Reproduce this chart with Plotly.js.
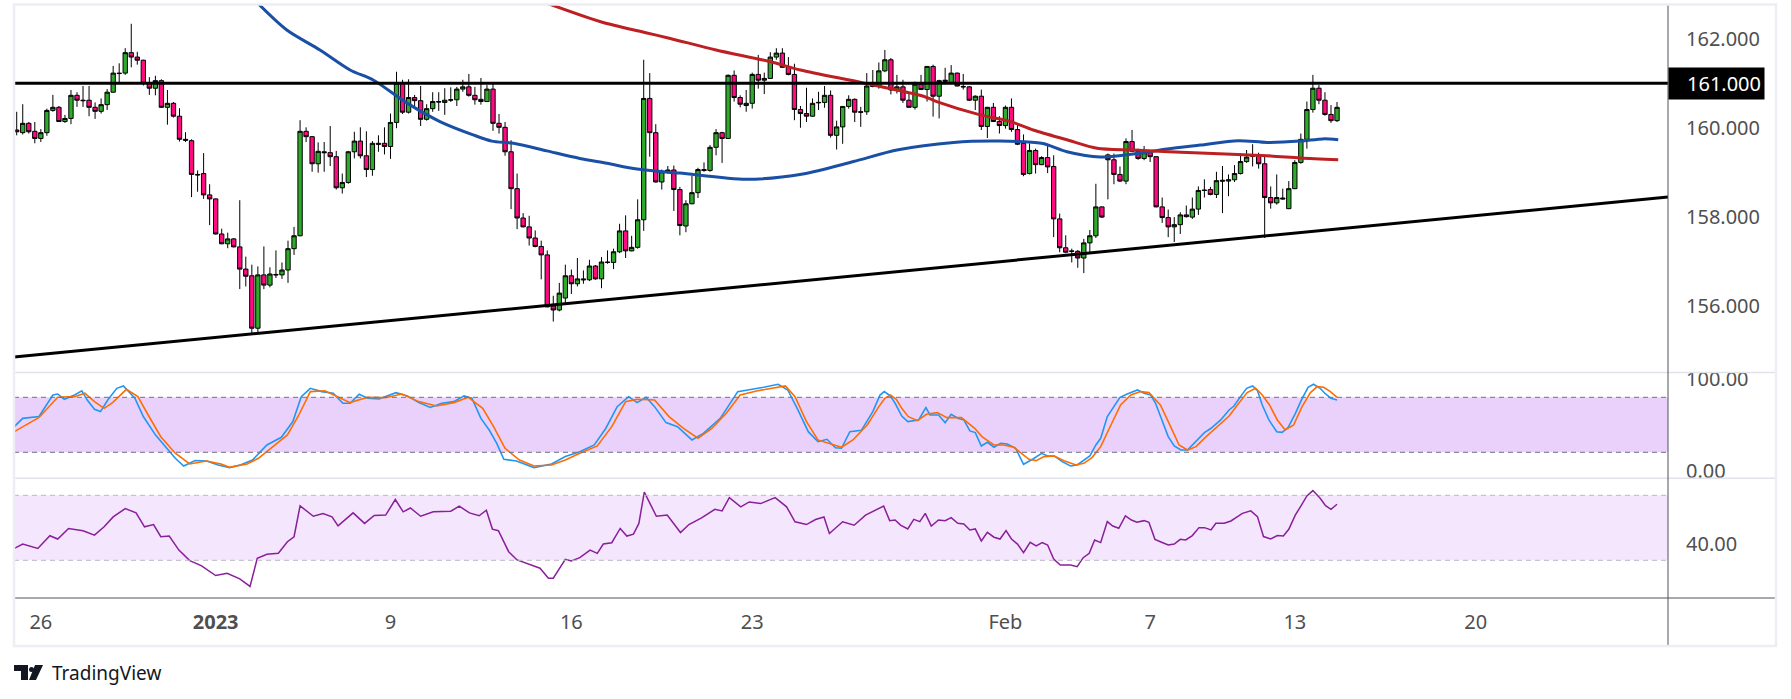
<!DOCTYPE html>
<html><head><meta charset="utf-8">
<script src="https://cdn.plot.ly/plotly-3.0.1.min.js"></script>
<style>html,body{margin:0;padding:0;background:#fff;}#chart{width:1791px;height:699px;}</style>
</head><body><div id="chart"></div>
<script>
// ---------- data (4H candles) ----------
const opens = [
159.95,159.89,160.10,159.92,159.76,159.89,160.39,160.46,160.14,160.21,
160.73,160.62,160.62,160.46,160.37,160.52,160.80,161.23,161.23,161.69,
161.59,161.52,161.00,160.89,161.06,160.46,160.55,160.26,159.74,159.71,
158.95,158.97,158.49,158.40,157.61,157.39,157.50,157.32,156.82,156.67,
155.49,156.69,156.46,156.70,156.69,156.80,157.28,157.57,159.92,159.80,
159.19,159.46,159.44,159.35,158.65,158.77,159.46,159.70,159.37,159.06,
159.65,159.65,159.58,160.12,161.00,160.35,160.68,160.61,160.19,160.43,
160.59,160.57,160.62,160.63,160.87,160.92,160.73,160.64,160.59,160.87,
160.10,160.01,159.46,158.63,157.97,157.77,157.52,157.33,157.14,155.99,
155.90,156.17,156.67,156.49,156.60,156.58,156.89,156.60,156.98,156.97,
157.21,157.68,157.23,157.31,157.93,160.66,159.89,158.78,159.01,159.05,
158.61,157.79,158.29,158.54,159.06,159.04,159.56,159.89,159.76,161.18,
160.68,160.50,160.55,161.20,161.07,161.11,161.59,161.68,161.36,161.20,
160.41,160.32,160.26,160.56,160.57,160.73,159.83,160.02,160.48,160.64,
160.36,160.36,160.95,160.93,161.28,161.53,160.85,160.92,160.62,160.46,
160.98,160.86,161.38,160.71,161.04,161.02,161.23,160.93,160.92,160.62,
160.71,160.03,160.46,160.14,160.05,160.46,159.96,159.65,158.97,159.49,
159.17,159.33,159.13,157.95,157.30,157.23,157.22,157.07,157.41,157.57,
158.22,159.39,159.28,158.95,158.80,159.69,159.47,159.31,159.44,159.35,
158.22,157.98,157.77,157.82,158.04,157.99,158.17,158.60,158.61,158.50,
158.82,158.80,158.83,158.97,159.24,159.36,159.37,159.19,158.43,158.31,
158.42,158.18,158.63,159.22,159.74,160.41,160.89,160.62,160.30,160.16];
const highs = [
160.36,160.53,160.13,160.13,159.97,160.43,160.74,160.49,160.29,160.85,
160.80,160.94,160.94,160.57,160.66,160.87,161.39,161.45,161.79,162.34,
161.71,161.53,161.14,161.17,161.09,160.85,160.58,160.44,159.90,159.74,
159.04,159.43,158.73,158.41,157.73,157.64,157.52,158.37,157.10,156.92,
156.88,157.33,156.86,157.24,156.97,157.46,157.77,160.17,160.01,159.81,
159.67,159.68,160.04,159.48,158.97,159.48,159.91,160.01,159.92,159.70,
159.83,160.01,160.32,161.26,161.08,161.09,160.74,160.94,160.53,160.80,
160.80,160.89,160.91,160.92,161.08,161.21,160.92,161.12,160.96,161.00,
160.31,160.13,159.72,158.97,158.08,158.02,157.69,157.46,157.24,156.22,
156.51,156.92,156.81,157.07,156.79,157.03,156.91,157.09,157.24,157.28,
157.84,158.03,157.57,158.39,161.53,161.23,160.08,159.06,159.14,159.15,
158.67,158.37,158.92,159.10,159.22,159.61,159.97,159.91,161.20,161.29,
160.73,160.85,161.24,161.64,161.24,161.70,161.79,161.79,161.59,161.44,
160.49,160.90,160.66,160.81,160.94,160.84,160.16,160.49,160.73,160.66,
160.47,161.23,161.30,161.47,161.75,161.57,161.19,161.08,160.77,161.04,
161.19,161.39,161.42,161.08,161.35,161.41,161.24,161.21,160.94,160.73,
160.86,160.47,160.56,160.26,160.50,160.66,160.06,159.85,159.65,159.53,
159.36,159.61,159.38,158.07,157.58,157.28,157.25,157.50,157.70,158.74,
158.23,159.42,159.42,159.13,159.76,159.95,159.53,159.59,159.48,159.36,
158.43,158.16,157.99,158.10,158.25,158.43,158.68,158.84,158.67,159.01,
159.14,158.95,159.16,159.42,159.50,159.63,159.44,159.35,158.68,158.95,
158.63,158.80,159.27,159.87,160.59,161.19,160.96,160.80,160.51,160.58];
const lows = [
159.83,159.85,159.87,159.65,159.68,159.82,160.36,160.13,160.11,160.08,
160.47,160.47,160.26,160.20,160.32,160.40,160.79,161.00,161.19,161.36,
161.42,160.95,160.74,160.73,160.45,160.07,160.23,159.69,159.68,158.44,
158.56,158.40,157.81,157.60,157.38,157.29,157.31,156.37,156.43,155.36,
155.37,156.37,156.41,156.62,156.60,156.51,157.14,157.56,159.68,159.01,
158.99,159.01,159.14,158.61,158.52,158.74,159.31,159.31,158.89,158.92,
159.46,159.40,159.30,159.99,160.31,160.32,160.49,160.04,160.16,160.36,
160.38,160.29,160.58,160.49,160.81,160.70,160.52,160.52,160.58,159.93,
159.87,159.37,158.17,157.72,157.76,157.35,157.31,156.59,155.96,155.64,
155.87,156.05,156.26,156.43,156.49,156.55,156.58,156.39,156.94,156.82,
157.18,157.07,157.22,157.28,157.68,159.35,158.77,158.61,158.97,158.13,
157.58,157.65,158.28,158.42,159.01,159.01,159.38,159.21,159.75,160.59,
160.46,160.36,160.43,160.88,160.76,161.10,161.53,161.35,161.18,160.17,
160.00,160.13,160.25,160.40,160.45,159.78,159.51,159.64,160.43,160.13,
160.02,160.29,160.91,160.88,161.25,160.75,160.77,160.56,160.45,160.41,
160.85,160.59,160.25,160.21,161.00,160.98,160.93,160.86,160.60,160.40,
159.95,159.77,160.13,159.87,159.98,159.91,159.61,158.91,158.95,158.97,
159.16,158.98,157.54,157.20,157.18,156.97,156.85,156.73,157.20,157.52,
157.97,158.39,158.73,158.78,158.73,159.46,159.28,159.27,159.23,158.21,
157.86,157.54,157.43,157.61,157.98,157.95,158.04,158.43,158.48,158.42,
158.08,158.46,158.78,158.95,159.21,159.13,159.08,157.52,158.18,158.27,
158.38,158.17,158.62,159.19,159.53,160.34,160.53,160.27,160.11,160.13];
const closes = [
159.91,160.10,159.91,159.76,159.89,160.39,160.46,160.14,160.21,160.73,
160.62,160.61,160.46,160.37,160.52,160.80,161.23,161.22,161.69,161.59,
161.52,161.00,160.89,161.06,160.46,160.55,160.26,159.74,159.72,158.95,
158.94,158.49,158.40,157.61,157.39,157.50,157.32,156.82,156.66,155.49,
156.69,156.46,156.71,156.69,156.80,157.28,157.57,159.92,159.80,159.19,
159.47,159.44,159.35,158.65,158.77,159.46,159.70,159.37,159.06,159.65,
159.63,159.58,160.12,161.00,160.35,160.68,160.61,160.19,160.43,160.59,
160.58,160.62,160.63,160.87,160.92,160.73,160.63,160.59,160.87,160.10,
160.01,159.46,158.63,157.97,157.77,157.52,157.33,157.14,155.97,155.90,
156.28,156.67,156.49,156.60,156.58,156.89,156.60,156.98,156.97,157.21,
157.68,157.23,157.31,157.93,160.66,159.89,158.78,159.01,159.05,158.61,
157.80,158.29,158.54,159.06,159.04,159.56,159.89,159.76,161.18,160.68,
160.53,160.55,161.20,161.07,161.11,161.59,161.68,161.36,161.20,160.41,
160.32,160.26,160.55,160.57,160.73,159.83,160.02,160.48,160.64,160.35,
160.35,160.94,160.93,161.28,161.53,160.85,160.92,160.62,160.46,160.98,
160.86,161.38,160.71,161.06,161.07,161.23,160.94,160.92,160.62,160.71,
160.03,160.46,160.14,160.05,160.46,159.96,159.63,158.95,159.49,159.17,
159.33,159.12,157.95,157.30,157.20,157.22,157.07,157.41,157.57,158.22,
157.99,159.28,158.95,158.80,159.69,159.47,159.31,159.44,159.35,158.22,
157.98,157.77,157.82,158.04,158.00,158.17,158.59,158.59,158.50,158.81,
158.80,158.83,158.97,159.24,159.34,159.37,159.19,158.43,158.31,158.43,
158.40,158.63,159.22,159.74,160.41,160.89,160.62,160.30,160.16,160.46];

// moving averages (bar index, price)
const maBlueIdx = [40,44.8,50.3,55.3,59.2,64.7,70.2,75.7,78.8,82.4,87.9,93.4,97.9,102.9,110,121,130.4,138.8,146,155.4,163,170,174.2,179.7,185.2,190.8,196.3,202.6,207.4,212.9,216.7,219.2];
const maBlueVal = [162.80,162.20,161.75,161.30,161.07,160.56,160.14,159.84,159.70,159.65,159.48,159.31,159.20,159.07,158.98,158.84,158.96,159.24,159.50,159.67,159.70,159.65,159.46,159.34,159.41,159.52,159.61,159.71,159.67,159.70,159.75,159.73];
const maRedIdx = [88,97,104,108.4,116,124.9,130,140.4,150.4,152.6,159.8,164.8,168.6,174.2,179.2,185.2,196.3,207.4,212.9,219.2];
const maRedVal = [162.80,162.38,162.15,162.01,161.75,161.49,161.30,161.01,160.71,160.59,160.29,160.14,159.95,159.73,159.54,159.50,159.43,159.37,159.32,159.28];

// drawn levels
const resistanceLevel = 161.0;
const trendIdx = [-0.45, 273.9];
const trendVal = [154.845, 158.44];

// stochastic %K / %D
const stochKIdx = [-0.4,1,3.7,6,6.8,7.9,9.6,10.8,11.7,12.9,13.9,15.1,16.6,17.7,19.6,21,23,24.8,26.3,27.7,29.6,31.5,33.4,35.3,37.2,39.1,41.5,43.9,45.8,47.2,48.7,50.6,52.5,54.1,55.3,56.8,58.2,60.1,62.9,64.8,66.7,68.6,70.5,72.5,74.2,75.5,77,78.4,79.6,80.8,82.9,85.8,88.7,91,93.4,95.8,97.7,99.6,101.5,102.9,104.4,105.8,107.7,109.6,112,113.9,116.7,119.6,122,123.9,126.3,127.9,129.6,131.3,132.9,134.4,135.8,136.8,138.2,140.1,142,143.2,143.9,144.9,145.7,146.8,147.8,149.6,150.8,151.5,152.9,154,155,156.1,157.1,158.1,159,160,161,162.1,163.2,164.3,165.7,167,168.5,170,171,172.1,173.4,174.8,175.9,177,178,179,179.8,180.9,182,183,184.2,185.9,187,188.1,188.9,190,191,192,193.1,194.2,195.6,197,198.1,199.7,201.1,201.9,203,204,205,205.8,206.6,207.7,209,209.9,210.9,212.1,213.1,214.2,215.1,216.2,217.1,218,219];
const stochKVal = [48,57,59,82.5,83.6,77.8,82.5,87,77,67,64.4,77,89.8,92.4,79,59,39,24.4,13.5,5,11,10.5,6.2,3.3,6.5,11.6,28,36.4,53.5,80.7,89.8,86.2,84.4,73.5,73.5,83.3,79,78.2,85,81.5,74.2,69,73.5,75.3,81.5,79,57,44,30,12.4,10.5,3.3,7.3,15.3,20.7,28,46,69.8,80.7,74.2,80,69.8,52.4,48,33.5,40.7,57,86.2,88.7,91,94.2,88,66,42.5,31.6,34.2,25,24.4,42.5,44,64.4,82.5,86.2,81.5,73.5,59.6,53.5,55.3,68.7,60.7,60.7,52.4,61.5,57.1,55.3,43.3,41.5,26.9,30.9,25.5,29.8,29.1,24.4,6.9,12.4,18.9,16,16,9.8,5.1,6.2,11.6,16,28,35.3,58.9,69.8,80,83.6,88,84.4,82.5,73.5,55.3,37.1,26.9,22.5,22.5,31.6,41.5,46.2,55.3,66.2,70.5,80.7,89.8,92.4,87.3,71.6,55.3,42.5,41.8,47.3,62.5,77.1,90.9,94.2,89.8,83.6,78.9,77.1];
const stochDIdx = [-0.4,3.7,6.8,9.6,11.3,12.9,14.5,15.9,18.2,20.1,21.8,23.9,26.3,28.7,31.5,33.9,35.3,38.2,40.1,42.5,44.9,46.8,48.7,51.1,53.5,55.3,58.2,61.1,63.9,66.7,69.6,72.5,74.9,77.3,79.1,81,83.4,85.8,88.7,91,93.4,96.3,98.7,101,102.9,105.8,108.2,110.6,113,115.3,117.7,120,122.9,125.3,127.5,129.1,131,132.9,134.8,136.8,138.7,141.1,143,144,144.9,145.9,146.8,147.9,149.4,150.9,152.7,154.3,156.7,158.9,160.1,162.1,163.7,165.4,166.5,167.9,169.1,170.4,172.1,173.7,175.7,177,178.4,179.8,181.5,183.1,184.8,186.4,187.8,189.7,191.4,192.8,194.2,195.6,197.3,199.2,201.1,202.7,204.1,205.5,206.6,207.8,209.1,210.4,211.8,213.2,214.6,215.7,216.8,217.9,219];
const stochDVal = [42.5,58,80,80.7,84.4,75.3,68,74.2,88.7,80.7,60.7,37,19,7.3,10.5,7.3,3.6,7.3,13.5,26.2,39,60.7,86.2,87.2,80,74.2,80,79.6,83.6,75.3,70.5,74.2,80,68,48,24.4,11.6,5.1,6.2,11.6,19,27,48,75.3,77.8,77,59,46,35.3,46,62.5,82.5,87.2,89.8,92.4,80.7,53.5,33.5,29.8,25.5,33.5,50,69.8,78.9,82.5,77.8,68,58.9,54.5,61.5,63.3,57.8,57.8,46.2,37.1,28,28,25.5,19.6,12.4,10.9,15.3,16,10.9,6.2,8,14.5,26.2,49.8,71.6,82.5,86.2,85.1,71.6,48,28,22.5,26.2,37.1,48,59.6,73.5,85.1,89.8,82.5,71.6,55.3,44.4,49.8,69.8,85.1,91.6,90.9,86.2,80];

// RSI
const rsiIdx = [-0.4,1,3.5,5.5,6.8,8.6,11,12.9,14.5,16,18,19.8,21.2,22.7,23.9,25.3,26.9,28.7,30.6,33,34.9,37,38.7,39.9,41.5,43.4,44.9,46,47,49.2,50.8,52.3,53.3,55.8,57.7,59.3,61.2,62.8,64.1,65.3,67,69.1,72,73.4,75.1,76.7,77.9,78.9,79.9,81.6,83,86.8,88.2,89,91,92,93.4,95.1,96.3,97.3,98.7,100.1,101.2,102.3,103.2,104.1,106.1,107.9,110.1,111.5,113.6,115.8,117,118.2,120.1,121.5,123.4,125.8,127.7,129.1,131,132.5,133.9,134.8,137,138.9,140.8,143.2,143.8,144.8,145.7,146.6,147.8,148.8,149.8,150.7,151.7,152.9,154,155,156.1,157.1,158.1,159,160,161,162.1,163.1,164.1,165,166,167,168.1,169.1,170.1,171,172,173.1,174.8,175.9,176.9,177.9,178.8,179.8,180.9,181.8,182.8,183.9,184.9,185.8,187,187.8,188.8,189.9,191,192,193,193.9,195,196.1,197,198.1,198.9,200.3,201.4,202.5,203.3,204.7,205.8,206.8,208,209.1,210.1,211,212.1,213.1,214,215,216.2,217.1,218,219];
const rsiVal = [37.3,40,37.3,45.1,43.1,49.6,48.2,45.5,50.6,56.7,61.8,59.2,50.6,52,44.5,44.9,36.3,29.8,26.7,20.6,22,18.6,13.9,31.2,33.7,34.3,41.4,44.5,63.5,57.1,58.8,56.7,51.2,59.2,52.7,57.6,57.8,67.4,59.8,62.2,57.1,59.8,60.2,63.3,59.2,57.4,60.8,49.2,48.2,35.3,30.2,25.1,19,19,30.6,29.6,31.6,36.3,34.3,40,40.8,49.6,44.9,46.1,52.7,72,57.1,57.8,47.1,52,56.1,61.4,60.4,68.6,62.9,65.9,64.9,68.6,62.9,53.7,52,55.1,56.7,46.5,53.7,51.6,57.8,62,63.4,54.4,54.8,51.7,49.3,55.2,53.8,58.9,51.1,54.8,54.4,56.3,52.8,52.4,48.7,49.3,41.9,47.2,44.2,43.1,48.3,43.1,40,34.7,41.1,38.8,40.9,39.4,30.8,27.1,27.1,26.1,31.6,34.3,42.5,40.9,53.8,51.1,49.7,57.3,54.8,53.4,54.4,53.4,42.9,41.1,39.4,40,42.9,42.5,45.2,50.1,50.1,48.7,52.8,52.8,54.2,56.9,58.9,60.4,56.9,44.6,43.1,45.2,45,49.1,57.9,64,69.6,72.9,68.2,63.6,61.4,64.5];

// axis labels
const xTickVals = [4, 33, 62, 92, 122, 164, 188, 212, 242];
const xTickText = ['26', '<b>2023</b>', '9', '16', '23', 'Feb', '7', '13', '20'];
const priceTicks = [156, 158, 160, 162];
const stochTicks = [0, 100];
const rsiTicks = [40];
const stochBand = [20, 80];
const rsiBand = [30, 70];

// ---------- layout geometry (pixels) ----------
const W = 1791, H = 699, PL = 14, PR = 1668, PT = 5, PB = 598;
const px = x => (x - PL) / (PR - PL);
const py = y => (PB - y) / (PB - PT);
const FONT = 'Noto Sans, Roboto, sans-serif';
const TXT = '#4f4f4f';

const barIdx = opens.map((_, i) => i);

const traces = [
  {type: 'candlestick', x: barIdx, open: opens, high: highs, low: lows, close: closes,
   xaxis: 'x', yaxis: 'y', whiskerwidth: 0,
   increasing: {fillcolor: '#2eab2a', line: {color: '#000000', width: 1}},
   decreasing: {fillcolor: '#ff0a80', line: {color: '#000000', width: 1}},
   hoverinfo: 'skip', showlegend: false},
  {type: 'scatter', mode: 'lines', x: maBlueIdx, y: maBlueVal, xaxis: 'x', yaxis: 'y',
   line: {color: '#1a4fa6', width: 3, shape: 'spline', smoothing: 0.8}, hoverinfo: 'skip', showlegend: false},
  {type: 'scatter', mode: 'lines', x: maRedIdx, y: maRedVal, xaxis: 'x', yaxis: 'y',
   line: {color: '#bd1f22', width: 3, shape: 'spline', smoothing: 0.8}, hoverinfo: 'skip', showlegend: false},
  {type: 'scatter', mode: 'lines', x: trendIdx, y: trendVal, xaxis: 'x', yaxis: 'y',
   line: {color: '#000000', width: 3}, hoverinfo: 'skip', showlegend: false},
  {type: 'scatter', mode: 'lines', x: stochKIdx, y: stochKVal, xaxis: 'x', yaxis: 'y2',
   line: {color: '#2196f3', width: 1.6}, hoverinfo: 'skip', showlegend: false},
  {type: 'scatter', mode: 'lines', x: stochDIdx, y: stochDVal, xaxis: 'x', yaxis: 'y2',
   line: {color: '#ff6d00', width: 1.6}, hoverinfo: 'skip', showlegend: false},
  {type: 'scatter', mode: 'lines', x: rsiIdx, y: rsiVal, xaxis: 'x', yaxis: 'y3',
   line: {color: '#8a1f9a', width: 1.5}, hoverinfo: 'skip', showlegend: false}
];

const sepColor = '#e0e3eb', axColor = '#50535e';
const shapes = [
  // indicator bands
  {type: 'rect', xref: 'paper', yref: 'y2', x0: 0, x1: 1, y0: stochBand[0], y1: stochBand[1], fillcolor: '#ead1fb', line: {width: 0}, layer: 'below'},
  {type: 'line', xref: 'paper', yref: 'y2', x0: 0, x1: 1, y0: stochBand[1], y1: stochBand[1], line: {color: '#6e7180', width: 1, dash: '5px,4px'}},
  {type: 'line', xref: 'paper', yref: 'y2', x0: 0, x1: 1, y0: stochBand[0], y1: stochBand[0], line: {color: '#6e7180', width: 1, dash: '5px,4px'}},
  {type: 'rect', xref: 'paper', yref: 'y3', x0: 0, x1: 1, y0: rsiBand[0], y1: rsiBand[1], fillcolor: '#f4e6fd', line: {width: 0}, layer: 'below'},
  {type: 'line', xref: 'paper', yref: 'y3', x0: 0, x1: 1, y0: rsiBand[1], y1: rsiBand[1], line: {color: '#bdb7c6', width: 1, dash: '5px,4px'}},
  {type: 'line', xref: 'paper', yref: 'y3', x0: 0, x1: 1, y0: rsiBand[0], y1: rsiBand[0], line: {color: '#bdb7c6', width: 1, dash: '5px,4px'}},
  // resistance level
  {type: 'line', xref: 'paper', yref: 'y', x0: 0, x1: 1, y0: resistanceLevel, y1: resistanceLevel, line: {color: '#000000', width: 3}, layer: 'above'},
  // pane separators and axis lines
  {type: 'line', xref: 'paper', yref: 'paper', x0: 0, x1: px(1775), y0: py(372.5), y1: py(372.5), line: {color: sepColor, width: 1.5}},
  {type: 'line', xref: 'paper', yref: 'paper', x0: 0, x1: px(1775), y0: py(478.3), y1: py(478.3), line: {color: sepColor, width: 1.5}},
  {type: 'line', xref: 'paper', yref: 'paper', x0: 0, x1: px(1775), y0: 0, y1: 0, line: {color: axColor, width: 1}},
  {type: 'line', xref: 'paper', yref: 'paper', x0: 1, x1: 1, y0: py(646), y1: 1, line: {color: axColor, width: 1}},
  // outer frame
  {type: 'rect', xref: 'paper', yref: 'paper', x0: px(14), x1: px(1776), y0: py(646), y1: py(4.5), line: {color: '#eceef4', width: 2.5}, fillcolor: 'rgba(0,0,0,0)'},
  // TradingView logo mark
  {type: 'rect', xref: 'paper', yref: 'paper', x0: px(14), x1: px(28), y0: py(671), y1: py(665), fillcolor: '#131722', line: {width: 0}},
  {type: 'rect', xref: 'paper', yref: 'paper', x0: px(21), x1: px(28), y0: py(680), y1: py(665), fillcolor: '#131722', line: {width: 0}},
  {type: 'circle', xref: 'paper', yref: 'paper', x0: px(29), x1: px(34), y0: py(672), y1: py(667), fillcolor: '#131722', line: {width: 0}},
  {type: 'path', xref: 'paper', yref: 'paper',
   path: `M ${px(35)} ${py(665)} L ${px(43)} ${py(665)} L ${px(36)} ${py(680)} L ${px(29)} ${py(680)} Z`,
   fillcolor: '#131722', line: {width: 0}}
];

const annotations = [
  {xref: 'paper', yref: 'y', x: 1, y: resistanceLevel, xanchor: 'left', yanchor: 'middle',
   text: resistanceLevel.toFixed(3), showarrow: false, bgcolor: '#000000',
   font: {family: FONT, size: 20, color: '#ffffff'}, width: 89, height: 25, borderpad: 3, align: 'right'},
  {xref: 'paper', yref: 'paper', x: px(50), y: py(673), xanchor: 'left', yanchor: 'middle',
   text: 'TradingView', showarrow: false, font: {family: FONT, size: 19, color: '#131722'}}
];

const yCommon = {side: 'right', anchor: 'x', showgrid: false, zeroline: false, showline: false,
  ticks: 'outside', ticklen: 13, tickcolor: 'rgba(0,0,0,0)', tickmode: 'array',
  tickfont: {family: FONT, size: 20, color: TXT}, fixedrange: true};

const layout = {
  width: W, height: H,
  margin: {l: PL, r: W - PR, t: PT, b: H - PB, pad: 0},
  paper_bgcolor: '#ffffff', plot_bgcolor: '#ffffff',
  showlegend: false, hovermode: false, dragmode: false,
  boxgap: 0.2, boxgroupgap: 0.1,
  xaxis: {anchor: 'y3', range: [-0.45, 273.9], showgrid: false, zeroline: false, showline: false,
    tickmode: 'array', tickvals: xTickVals, ticktext: xTickText,
    ticks: 'outside', ticklen: 6, tickcolor: 'rgba(0,0,0,0)',
    tickfont: {family: FONT, size: 20, color: TXT}, rangeslider: {visible: false}, fixedrange: true},
  yaxis: Object.assign({}, yCommon, {domain: [py(372.5), 1], range: [154.494, 162.762],
    tickvals: priceTicks, ticktext: priceTicks.map(v => v.toFixed(3))}),
  yaxis2: Object.assign({}, yCommon, {domain: [py(478.3), py(372.5)], range: [-8.36, 107.05],
    tickvals: stochTicks, ticktext: stochTicks.map(v => v.toFixed(2))}),
  yaxis3: Object.assign({}, yCommon, {domain: [0, py(478.3)], range: [6.8, 80.46],
    tickvals: rsiTicks, ticktext: rsiTicks.map(v => v.toFixed(2))}),
  shapes: shapes,
  annotations: annotations
};

Plotly.newPlot('chart', traces, layout, {staticPlot: true, displayModeBar: false});
</script>
</body></html>
